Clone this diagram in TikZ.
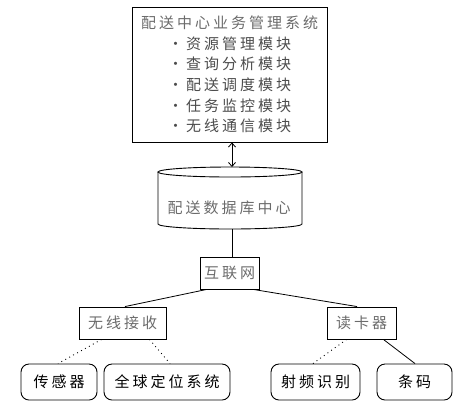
\documentclass[tikz,border=0pt]{standalone}
\usepackage{fontspec}
\newfontfamily\cjk[LetterSpace=20]{Noto Sans CJK SC}
\usetikzlibrary{arrows.meta}
\definecolor{txtgray}{gray}{0.42}
\definecolor{modgray}{gray}{0.30}
\tikzset{
  box/.style={draw, line width=0.9pt, inner sep=0pt, font=\cjk\fontsize{15}{20.6}\selectfont},
  rbox/.style={box, rounded corners=8pt, minimum height=36pt, text=black},
  sbox/.style={box, minimum height=32pt, text=txtgray},
  link/.style={line width=0.8pt},
  dotlink/.style={line width=0.9pt, dash pattern=on 0.9pt off 3.6pt},
}
\begin{document}
\begin{tikzpicture}[x=1pt,y=-1pt]
\useasboundingbox (0,0) rectangle (470,416);
% top box
\node[box, minimum width=195pt, minimum height=135pt, align=center, text=modgray] (top) at (229.5,74.5)
 {\textcolor{txtgray}{配送中心业务管理系统}\\·资源管理模块\\·查询分析模块\\·配送调度模块\\·任务监控模块\\·无线通信模块};
% cylinder
\draw[line width=0.9pt] (158,172) -- (158,224) arc[start angle=180,end angle=360,x radius=72pt,y radius=5pt] -- (302,172);
\draw[line width=0.9pt] (230,172) ellipse[x radius=72pt,y radius=5pt];
\node[font=\cjk\fontsize{15}{16}\selectfont, text=txtgray] (db) at (229,208) {配送数据库中心};
\coordinate (dbtop) at (232,167);
\coordinate (dbbot) at (232,229);
% internet
\node[sbox, minimum width=59pt] (net) at (229.5,273) {互联网};
% second level
\node[sbox, minimum width=87pt] (wl) at (122.5,323) {无线接收};
\node[sbox, minimum width=69pt] (rd) at (361.5,323) {读卡器};
% bottom
\node[rbox, minimum width=76pt] (sen) at (59,382) {传感器};
\node[rbox, minimum width=126pt] (gps) at (167,382) {全球定位系统};
\node[rbox, minimum width=89pt] (rfid) at (315.5,382) {射频识别};
\node[rbox, minimum width=75pt] (bar) at (414.5,382) {条码};
% connectors
\draw[link, {Straight Barb[length=4pt,width=7pt]}-{Straight Barb[length=4pt,width=7pt]}] (top.south -| dbtop) -- (dbtop);
\draw[link] (dbbot) -- (net.north -| dbbot);
\draw[link] ([xshift=7pt]net.south west) -- ([xshift=2.5pt]wl.north);
\draw[link] ([xshift=-6pt]net.south east) -- ([xshift=-4.5pt]rd.north);
\draw[dotlink] ([xshift=23pt]wl.south west) -- ([xshift=-1pt]sen.north);
\draw[dotlink] ([xshift=-17pt]wl.south east) -- ([xshift=3pt]gps.north);
\draw[dotlink] ([xshift=20pt]rd.south west) -- ([xshift=-2.5pt]rfid.north);
\draw[link] ([xshift=-13pt]rd.south east) -- ([xshift=0.5pt]bar.north);
\end{tikzpicture}
\end{document}
